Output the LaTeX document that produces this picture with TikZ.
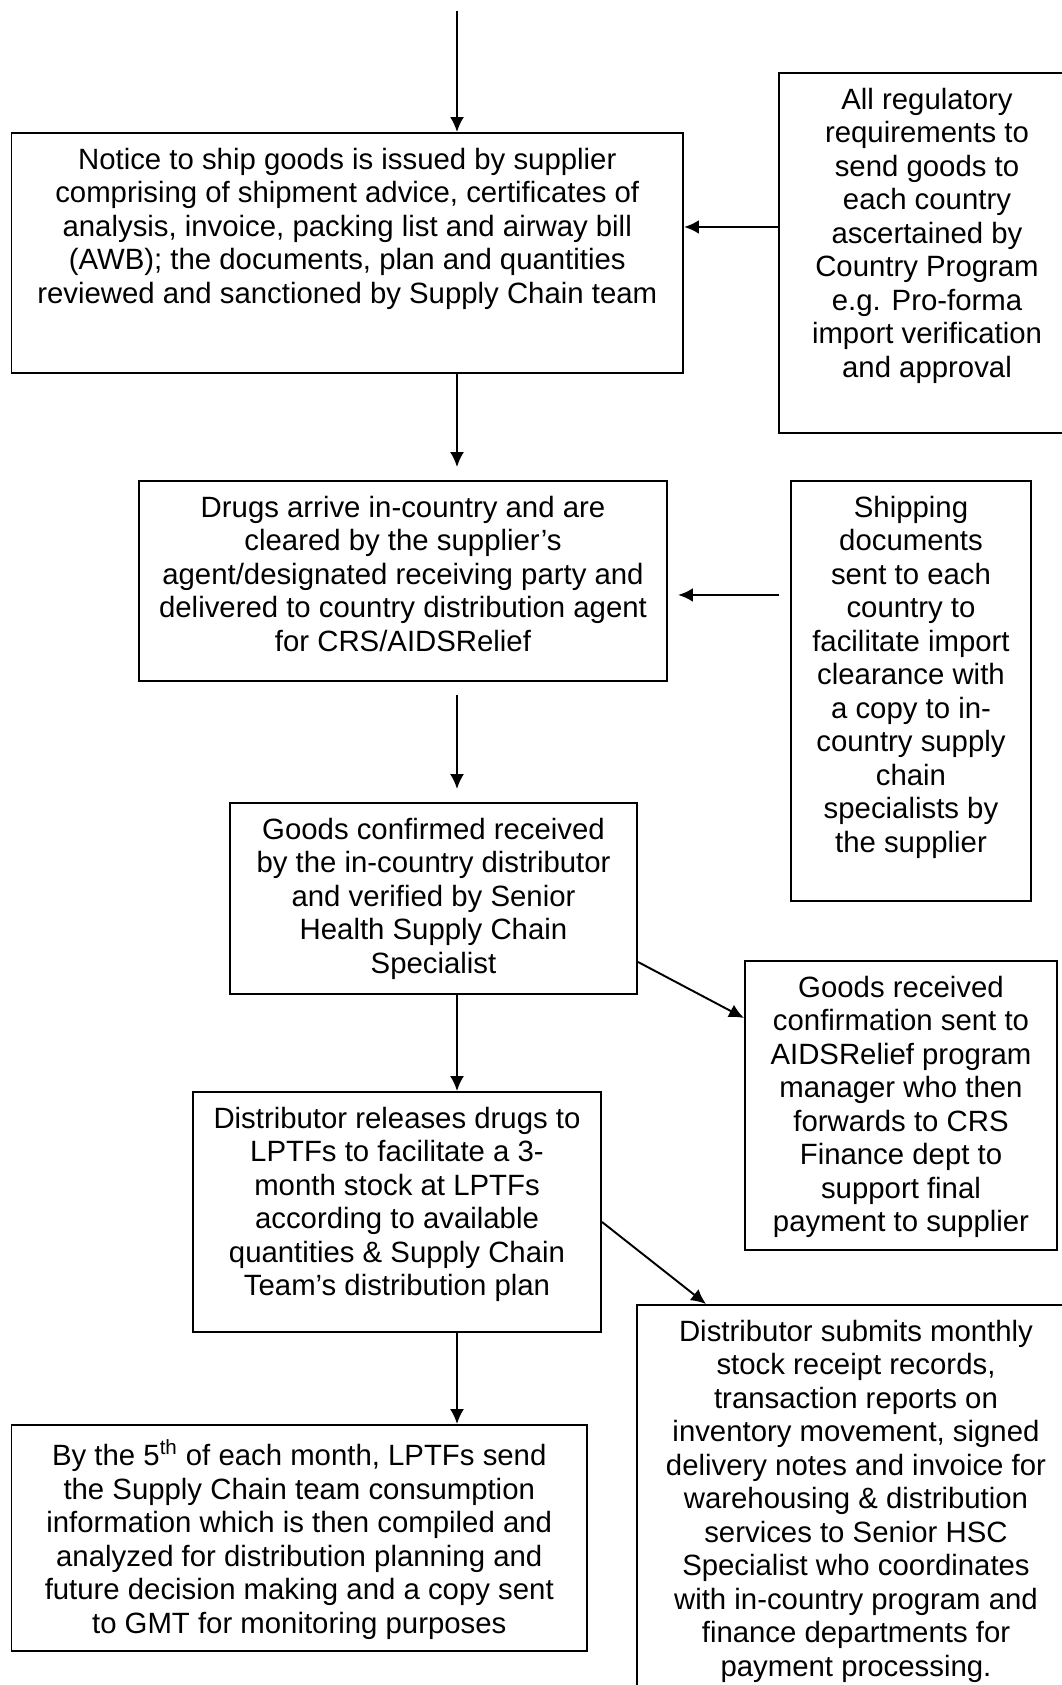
\documentclass[tikz,border=0pt]{standalone}
\usepackage{fontspec}
\setmainfont{Liberation Sans}
\usetikzlibrary{arrows.meta}

\tikzstyle{block} = [draw, line width=1.1pt, anchor=north, inner xsep=0.1cm, inner ysep=0.3cm, font=\fontsize{16.7}{19.06}\selectfont]
\tikzstyle{arrow} = [draw, line width=1.1pt, -{Latex[length=0.3cm,width=0.28cm]}]
\tikzstyle{thickarrow} = [arrow, line width=1.6pt]

\newcommand{\boxtext}[3]{\parbox[t][#2][t]{#1}{\centering #3}}

\begin{document}
\begin{tikzpicture}
	\clip (0,0) rectangle (21.24,-33.7);
	\coordinate (start) at (9.14,-0.22);
	\node (notice) at (6.945,-2.64) [block] {\boxtext{13.23cm}{4.2cm}{Notice to ship goods is issued by supplier\\ comprising of shipment advice, certificates of\\ analysis, invoice, packing list and airway bill\\ (AWB); the documents, plan and quantities\\ reviewed and sanctioned by Supply Chain team}};
	\node (reg) at (18.54,-1.44) [block] {\boxtext{5.72cm}{6.6cm}{All regulatory\\ requirements to\\ send goods to\\ each country\\ ascertained by\\ Country Program\\ e.g. Pro-forma\\ import verification\\ and approval}};
	\node (drugs) at (8.06,-9.6) [block] {\boxtext{10.36cm}{3.4cm}{Drugs arrive in-country and are\\ cleared by the supplier’s\\ agent/designated receiving party and\\ delivered to country distribution agent\\ for CRS/AIDSRelief}};
	\node (ship) at (18.22,-9.6) [block] {\boxtext{4.6cm}{7.8cm}{Shipping\\ documents\\ sent to each\\ country to\\ facilitate import\\ clearance with\\ a copy to in-\\ country supply\\ chain\\ specialists by\\ the supplier}};
	\node (conf) at (8.67,-16.04) [block] {\boxtext{7.94cm}{3.22cm}{Goods confirmed received\\ by the in-country distributor\\ and verified by Senior\\ Health Supply Chain\\ Specialist}};
	\node (recv) at (18.02,-19.2) [block] {\boxtext{6.04cm}{5.18cm}{Goods received\\ confirmation sent to\\ AIDSRelief program\\ manager who then\\ forwards to CRS\\ Finance dept to\\ support final\\ payment to supplier}};
	\node (rel) at (7.94,-21.82) [block] {\boxtext{7.96cm}{4.2cm}{Distributor releases drugs to\\ LPTFs to facilitate a 3-\\ month stock at LPTFs\\ according to available\\ quantities \& Supply Chain\\ Team’s distribution plan}};
	\node (rep) at (17.12,-26.08) [block] {\boxtext{8.56cm}{7.4cm}{Distributor submits monthly\\ stock receipt records,\\ transaction reports on\\ inventory movement, signed\\ delivery notes and invoice for\\ warehousing \& distribution\\ services to Senior HSC\\ Specialist who coordinates\\ with in-country program and\\ finance departments for\\ payment processing.}};
	\node (cons) at (5.985,-28.48) [block] {\boxtext{11.31cm}{3.92cm}{By the 5\textsuperscript{th} of each month, LPTFs send\\ the Supply Chain team consumption\\ information which is then compiled and\\ analyzed for distribution planning and\\ future decision making and a copy sent\\ to GMT for monitoring purposes}};
	\coordinate (a1) at ([yshift=0.52cm]notice.east);
	\coordinate (a2) at ([yshift=-0.28cm]drugs.east);
	\path[arrow] (start) -- (notice.north -| start);
	\path[arrow, shorten >=0.26cm] (notice.south -| start) -- (drugs.north -| start);
	\path[arrow, shorten <=0.26cm, shorten >=0.26cm] (drugs.south -| start) -- (conf.north -| start);
	\path[arrow] (conf.south -| start) -- (rel.north -| start);
	\path[arrow] (rel.south -| start) -- (cons.north -| start);
	\path[thickarrow] (reg.west |- a1) -- (a1);
	\path[thickarrow, shorten <=0.22cm, shorten >=0.2cm] (ship.west |- a2) -- (a2);
	\path[arrow] ([yshift=0.66cm]conf.south east) -- ([yshift=-1.16cm]recv.north west);
	\path[arrow] ([yshift=2.22cm]rel.south east) -- ([xshift=1.4cm]rep.north west);
\end{tikzpicture}
\end{document}
